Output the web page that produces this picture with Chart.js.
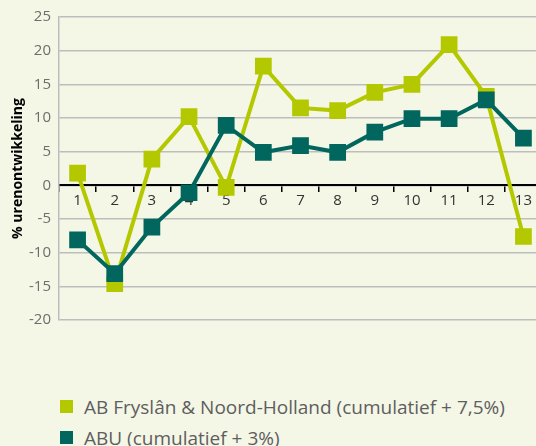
<!DOCTYPE html>
<html>
<head>
<meta charset="utf-8">
<script src="https://cdn.jsdelivr.net/npm/chart.js@4/dist/chart.umd.min.js"></script>
<style>
    html, body { margin: 0; padding: 0; background: #f4f6e6; }
    body { width: 536px; height: 446px; position: relative; overflow: hidden; font-family: 'Open Sans', sans-serif; }
    #wrap { position: absolute; left: 0; top: 0; width: 555px; height: 340px; }
    #legend { position: absolute; left: 60px; top: 391px; }
    .item { display: flex; align-items: center; height: 31px; font-size: 19px; color: #5e5e5e; }
    .box { width: 13px; height: 13px; margin-right: 11px; }
</style>
</head>
<body>
<div id="wrap"><canvas id="chart"></canvas></div>
<div id="legend"></div>
<script>
const weeks = ['1', '2', '3', '4', '5', '6', '7', '8', '9', '10', '11', '12', '13'];
const frieslandNH = [1.8, -14.6, 3.9, 10.2, -0.3, 17.7, 11.5, 11.1, 13.8, 15, 20.9, 13.2, -7.6];
const abu = [-8.1, -13.1, -6.2, -1.1, 8.9, 4.9, 5.9, 4.9, 7.9, 9.9, 9.9, 12.7, 7.0];
const seriesNames = ['AB Fryslân & Noord-Holland (cumulatief + 7,5%)', 'ABU (cumulatief + 3%)'];
const seriesColors = ['#b4c800', '#00665e'];

document.addEventListener('DOMContentLoaded', () => {
    drawChart();
    buildLegend();
});

function drawChart() {
    const ctx = document.getElementById('chart').getContext('2d');
    const sets = [frieslandNH, abu].map((values, i) => ({
        label: seriesNames[i],
        data: values,
        borderColor: seriesColors[i],
        backgroundColor: seriesColors[i],
        borderWidth: 4,
        pointStyle: 'rect',
        pointRadius: 9,
        pointHoverRadius: 9,
        tension: 0
    }));
    // teal line is drawn over the light green one
    sets[0].order = 2;
    sets[1].order = 1;

    new Chart(ctx, {
        type: 'line',
        data: { labels: weeks, datasets: sets },
        options: {
            responsive: true,
            maintainAspectRatio: false,
            animation: false,
            layout: { padding: { top: 15, bottom: 20, left: 10 } },
            plugins: { legend: { display: false }, tooltip: { enabled: false } },
            scales: {
                x: {
                    position: { y: 0 },
                    offset: true,
                    grid: { offset: true, drawOnChartArea: false, tickLength: 6, color: '#000', lineWidth: 1.5 },
                    border: { color: '#000', width: 2 },
                    ticks: { color: '#333', font: { family: 'Open Sans', size: 15 }, padding: 0 }
                },
                y: {
                    min: -20,
                    max: 25,
                    afterFit: s => { s.width = 49; },
                    grid: { color: '#bdbdbd', lineWidth: 1.5, drawTicks: false },
                    border: { color: '#bdbdbd', width: 1.5 },
                    ticks: { stepSize: 5, color: '#6d6d6d', padding: 8, font: { family: 'Open Sans', size: 15 } },
                    title: {
                        display: true,
                        text: '% urenontwikkeling',
                        color: '#000',
                        padding: 0,
                        font: { family: 'Open Sans', size: 14, weight: 'bold' }
                    }
                }
            }
        }
    });
}

function buildLegend() {
    const legend = document.getElementById('legend');
    legend.innerHTML = seriesNames.map((name, i) => `
        <div class="item"><span class="box" style="background:${seriesColors[i]}"></span>${name}</div>
    `).join('');
}
</script>
</body>
</html>
